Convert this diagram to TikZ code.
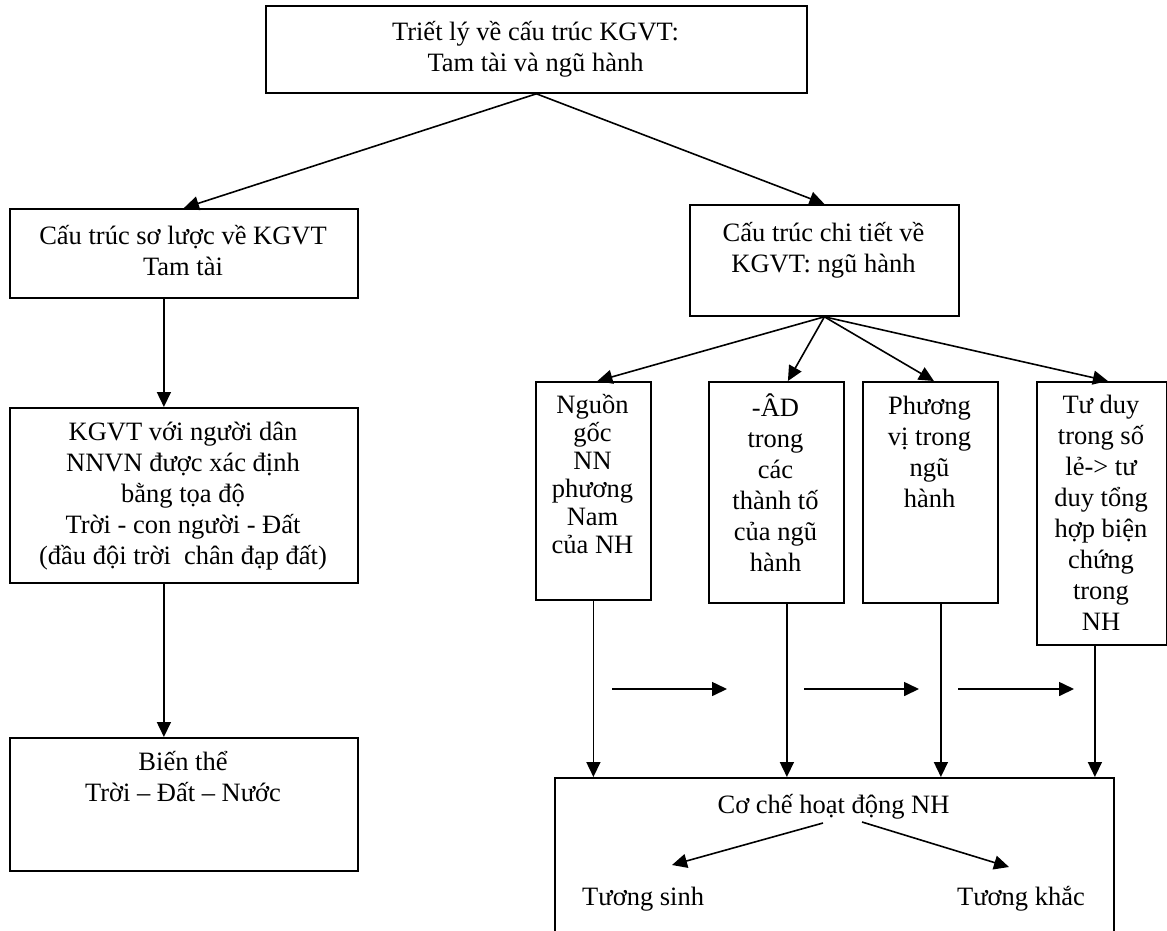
\documentclass[tikz,border=0pt]{standalone}
\usepackage{fontspec}
\setmainfont{Liberation Serif}
\usetikzlibrary{arrows.meta,calc}
\begin{document}
\begin{tikzpicture}[x=1pt,y=-1pt,
  box/.style={draw, line width=1.8pt, inner sep=0pt, anchor=north west},
  arr/.style={line width=1.6pt, -{Triangle[length=15pt,width=14pt]}},
  txt/.style={inner sep=0pt, align=center, font=\fontsize{26.5}{31}\selectfont,
    execute at begin node=\strut, execute at end node=\strut},
  txttight/.style={txt, font=\fontsize{26.5}{28}\selectfont}]
\clip (0,0) rectangle (1167,930);
\fill[white] (0,0) rectangle (1167,930);
% boxes
\node[box, minimum width=541pt, minimum height=87pt]  (T)  at (265,5) {};
\node[box, minimum width=348pt, minimum height=89pt]  (L1) at (9,208) {};
\node[box, minimum width=269pt, minimum height=111pt] (R1) at (689,204) {};
\node[box, minimum width=348pt, minimum height=175pt] (L2) at (9,407) {};
\node[box, minimum width=348pt, minimum height=133pt] (L3) at (9,737) {};
\node[box, minimum width=115pt, minimum height=218pt] (S1) at (535,381) {};
\node[box, minimum width=135pt, minimum height=221pt] (S2) at (708,381) {};
\node[box, minimum width=135pt, minimum height=221pt] (S3) at (862,381) {};
\node[box, minimum width=130pt, minimum height=263pt] (S4) at (1036,381) {};
\node[box, minimum width=559pt, minimum height=200pt] (B)  at (554,777) {};
% texts
\node[txt] (tT)  at (535.5,50.8) {Triết lý về cấu trúc KGVT:\\Tam tài và ngũ hành};
\node[txt] (tL1) at (183,254.8) {Cấu trúc sơ lược về KGVT\\Tam tài};
\node[txt] (tR1) at (823.5,252.3) {Cấu trúc chi tiết về\\KGVT: ngũ hành};
\node[txt] (tL2) at (183,497.8) {KGVT với người dân\\NNVN được xác định\\bằng tọa độ\\Trời - con người - Đất\\(đầu đội trời\ \ chân đạp đất)};
\node[txt] (tL3) at (183,781.3) {Biến thể\\Trời – Đất – Nước};
\node[txttight] (tS1) at (592.5,478.4) {Nguồn\\gốc\\NN\\phương\\Nam\\của NH};
\node[txt] (tS2) at (775.5,487.3) {-ÂD\\trong\\các\\thành tố\\của ngũ\\hành};
\node[txt] (tS3) at (929.5,456.3) {Phương\\vị trong\\ngũ\\hành};
\node[txt] (tS4) at (1101,517.3) {Tư duy\\trong số\\lẻ-> tư\\duy tổng\\hợp biện\\chứng\\trong\\NH};
\node[txt] (tB)  at (833.5,807.3) {Cơ chế hoạt động NH};
\node[txt, anchor=west] (ts) at (582,899.3) {Tương sinh};
\node[txt, anchor=east] (tk) at (1085,899.3) {Tương khắc};
% connectors
\draw[arr] (T.south) -- (L1.north);
\draw[arr] (T.south) -- (R1.north);
\draw[arr] ([xshift=-20pt]L1.south) -- ([xshift=-20pt]L2.north);
\draw[arr] ([xshift=-20pt]L2.south) -- ([xshift=-20pt]L3.north);
\draw[arr] (R1.south) -- ([xshift=4pt]S1.north);
\draw[arr] (R1.south) -- ([xshift=11.5pt]S2.north);
\draw[arr] (R1.south) -- ([xshift=3.5pt]S3.north);
\draw[arr] (R1.south) -- ([xshift=6pt]S4.north);
\coordinate (s1b) at (S1.south);
\coordinate (s2b) at ([xshift=10.5pt]S2.south);
\coordinate (s3b) at ([xshift=10.5pt]S3.south);
\coordinate (s4b) at ([xshift=-7pt]S4.south);
\draw[arr] (s1b) -- (s1b |- B.north);
\draw[arr] (s2b) -- (s2b |- B.north);
\draw[arr] (s3b) -- (s3b |- B.north);
\draw[arr] (s4b) -- (s4b |- B.north);
% free horizontal arrows
\coordinate (h1a) at (612,689); \coordinate (h1b) at (727,689);
\coordinate (h2a) at (804,689); \coordinate (h2b) at (919,689);
\coordinate (h3a) at (958,689); \coordinate (h3b) at (1074,689);
\draw[arr] (h1a) -- (h1b);
\draw[arr] (h2a) -- (h2b);
\draw[arr] (h3a) -- (h3b);
% inner arrows
\coordinate (ba) at (823,823); \coordinate (bb) at (672,865);
\coordinate (bc) at (862,822); \coordinate (bd) at (1009,867);
\draw[arr] (ba) -- (bb);
\draw[arr] (bc) -- (bd);
\end{tikzpicture}
\end{document}
